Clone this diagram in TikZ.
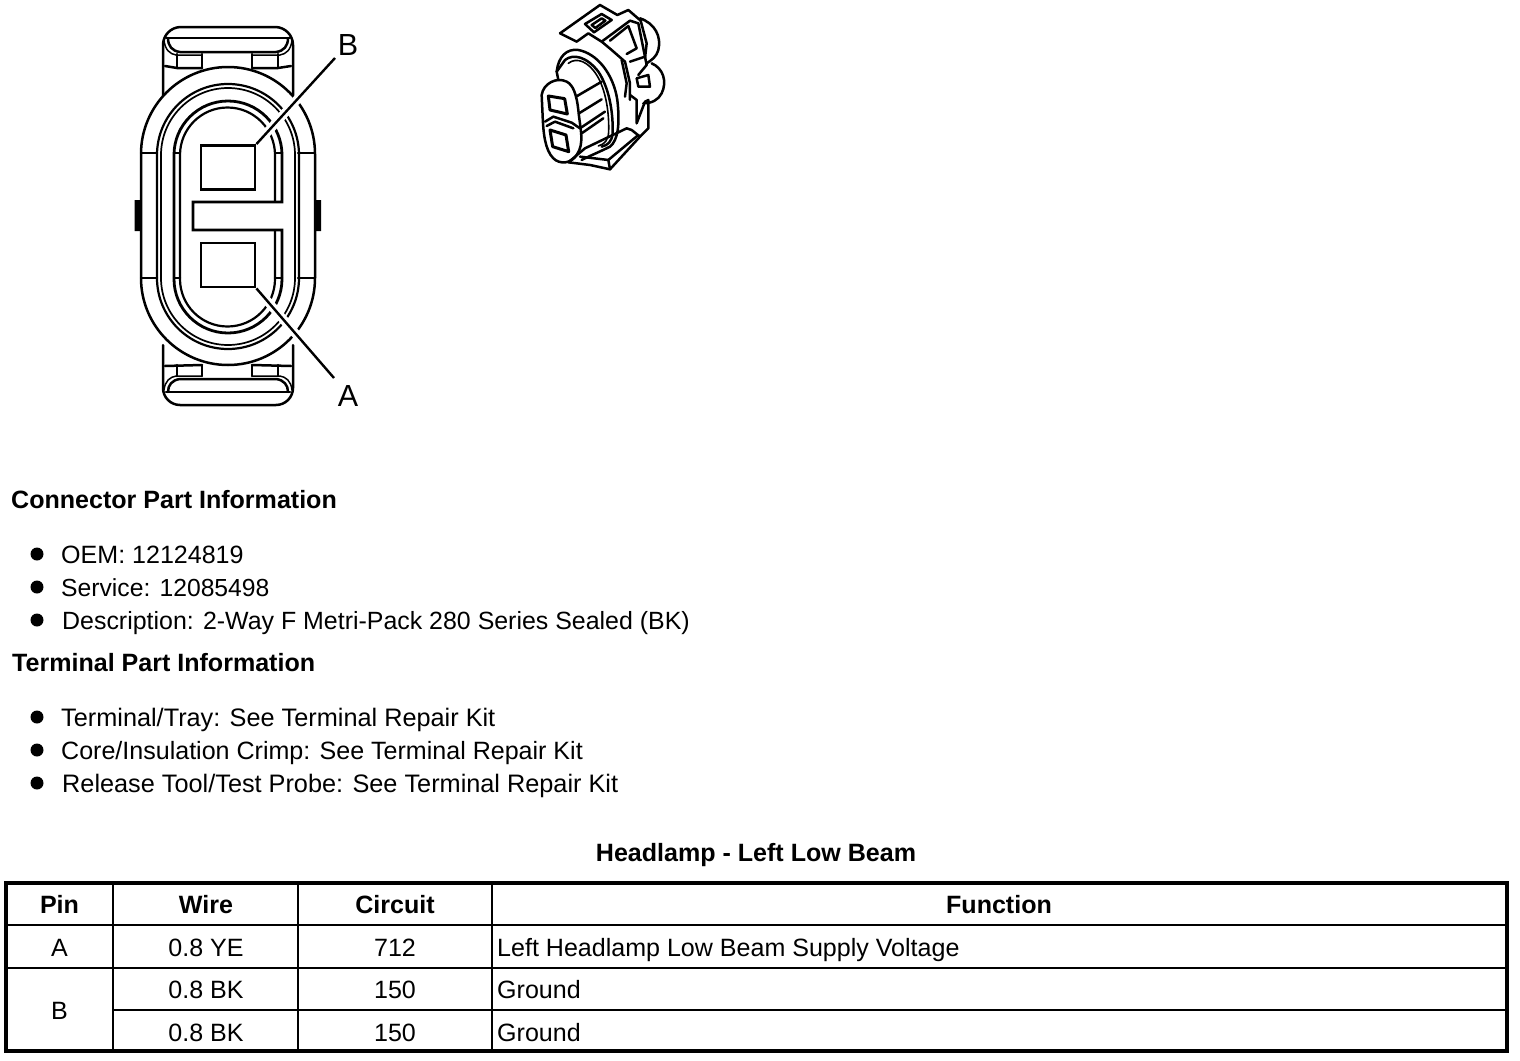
\documentclass[tikz,border=0pt]{standalone}
\usepackage{fontspec}
\setmainfont{Liberation Sans}
\tikzset{
 ln/.style={line width=2.5pt,line join=round,line cap=round},
 thin ln/.style={line width=1.5pt,line join=round,line cap=round},
 txt/.style={anchor=base west,inner sep=0pt,font=\fontsize{25.05}{28}\selectfont},
 head/.style={anchor=base west,inner sep=0pt,font=\fontsize{25.05}{28}\selectfont\bfseries},
 cell/.style={anchor=base,inner sep=0pt,font=\fontsize{25.05}{28}\selectfont},
 hcell/.style={anchor=base,inner sep=0pt,font=\fontsize{25.05}{28}\selectfont\bfseries},
 fcell/.style={anchor=base west,inner sep=0pt,font=\fontsize{25.05}{28}\selectfont},
 callout/.style={anchor=center,inner sep=0pt,font=\fontsize{30.5}{32}\selectfont},
 blt/.style={circle,fill=black,inner sep=0pt,minimum size=13pt},
 cavity/.style={draw,line width=2.8pt,inner sep=0pt,minimum width=54pt,minimum height=44pt},
 leader/.style={line width=2.4pt},
 halo/.style={line width=9pt,white},
}
\begin{document}
\begin{tikzpicture}[x=1pt,y=-1pt]
\useasboundingbox (0,0) rectangle (1520,1060);
% ---- top tab
\draw[ln] (163,110) -- (163,45) arc[start angle=180,end angle=270,radius=18] -- (275,27) arc[start angle=270,end angle=360,radius=18] -- (293,110);
\draw[ln] (166,38) -- (290,38);
\draw[ln] (168,38) .. controls (168,46) and (172,51) .. (180,52) -- (276,52) .. controls (284,51) and (288,46) .. (288,38);
\draw[thin ln] (164,40) .. controls (165,50) and (170,54) .. (176,55) -- (202,55) (252,55) -- (280,55) .. controls (286,54) and (291,50) .. (292,40);
\draw[ln] (177,54) -- (177,68) (202,54) -- (202,68) (252,54) -- (252,68) (278,54) -- (278,68);
\draw[ln] (165,66) -- (177,68) -- (202,68) (252,68) -- (278,68) -- (291,66);
% ---- bottom tab
\draw[ln] (163,345) -- (163,388) arc[start angle=180,end angle=90,radius=17] -- (276,405) arc[start angle=90,end angle=0,radius=17] -- (293,345);
\draw[ln] (166,392) -- (290,392);
\draw[ln] (168,392) .. controls (168,385) and (172,380) .. (180,379) -- (276,379) .. controls (284,380) and (288,385) .. (288,392);
\draw[thin ln] (164,390) .. controls (165,381) and (170,377) .. (176,376) -- (202,376) (252,376) -- (280,376) .. controls (286,377) and (291,381) .. (292,390);
\draw[ln] (177,376) -- (177,365) (202,376) -- (202,365) (252,376) -- (252,365) (278,376) -- (278,365);
\draw[ln] (165,366) -- (202,365) (252,365) -- (291,366);
% ---- outer oval
\draw[ln,fill=white] (141,154) arc[start angle=180,end angle=360,radius=87] -- (315,278) arc[start angle=0,end angle=180,radius=87] -- cycle;
\draw[ln] (141,153) -- (157,153) (298,153) -- (315,153) (141,278) -- (157,278) (298,278) -- (315,278);
\fill (134.5,200) rectangle (141,231) (315,200) rectangle (321,231);
% ---- second ring, doubled
\draw[line width=2.2pt] (157,155) arc[start angle=180,end angle=360,radius=71] -- (299,278) arc[start angle=0,end angle=180,radius=71] -- cycle;
\draw[line width=1.7pt] (161,155) arc[start angle=180,end angle=360,radius=67] -- (295,278) arc[start angle=0,end angle=180,radius=67] -- cycle;
% ---- third ring with key
\draw[line width=2.8pt,line join=miter] (282,155) arc[start angle=360,end angle=180,radius=54] -- (174,279) arc[start angle=180,end angle=0,radius=54] -- (282,230) -- (193,230) -- (193,202) -- (282,202) -- cycle;
\draw[line width=2.2pt] (275,202) -- (275,155) arc[start angle=360,end angle=180,radius=47.5] -- (180,279) arc[start angle=180,end angle=0,radius=47.5] -- (275,230);
\draw[ln] (174,153) -- (180,153) (275,153) -- (282,153) (174,278) -- (180,278) (275,278) -- (282,278);
% ---- cavities and callouts
\node[cavity] (cavB) at (228,167.5) {};
\node[cavity] (cavA) at (228,265) {};
\node[callout] (lblB) at (348,45) {B};
\node[callout] (lblA) at (348,396) {A};
\coordinate (tipB) at (335,58);
\coordinate (tipA) at (334,378);
\draw[halo,shorten <=8pt] (cavB.north east) -- (tipB);
\draw[halo,shorten <=8pt] (cavA.south east) -- (tipA);
\draw[leader] (cavB.north east) -- (tipB);
\draw[leader] (cavA.south east) -- (tipA);
% ---- 3D connector view
\begin{scope}[shift={(530,0)},x=0.3333pt,y=-0.3333pt,line width=2.5pt,line join=round,line cap=round]
 % right bumps
 \draw (330,55) .. controls (375,70) and (395,110) .. (385,150) .. controls (380,170) and (365,180) .. (350,190);
 \draw (365,190) .. controls (400,205) and (412,245) .. (395,280) .. controls (385,300) and (365,310) .. (340,310);
 % top clip
 \draw (90,100) -- (210,15) -- (262,45) -- (295,30) -- (332,62) -- (350,130) -- (345,175);
 \draw (90,100) -- (140,125) -- (175,100) -- (215,125) -- (300,62) -- (325,70) -- (345,170);
 \draw (165,72) -- (215,42) -- (245,60) -- (192,97) -- cycle;
 \draw (185,75) -- (215,55) -- (226,62) -- (196,84) -- cycle;
 \draw (240,122) -- (295,78) -- (320,145) -- (290,162);
 \draw (215,125) -- (245,150) -- (285,185) -- (300,250) -- (300,300);
 \draw (275,180) -- (290,250) -- (285,290);
 % latch details
 \draw (300,185) -- (345,170) -- (350,195) -- (325,225) (320,235) -- (355,225) -- (360,260) -- (325,260) -- cycle;
 \draw (300,285) -- (320,300) -- (320,370) -- (345,305) -- (355,300) -- (355,385) -- (330,410);
 % flange rings
 \draw (80,215) .. controls (85,170) and (110,145) .. (145,150) .. controls (200,160) and (250,220) .. (262,300) .. controls (270,370) and (265,420) .. (240,440) .. controls (210,455) and (185,465) .. (155,480);
 \draw (105,180) .. controls (130,160) and (170,170) .. (205,215) .. controls (235,260) and (250,330) .. (248,400) .. controls (245,425) and (235,435) .. (215,440);
 \draw[line width=1.6pt] (115,190) .. controls (140,170) and (175,185) .. (200,225) .. controls (225,265) and (238,330) .. (236,395) .. controls (235,420) and (225,432) .. (205,438);
 % nose
 \draw[fill=white] (35,285) .. controls (40,250) and (80,230) .. (110,245) .. controls (130,255) and (140,285) .. (145,330) .. controls (150,385) and (165,430) .. (140,465) .. controls (125,490) and (90,495) .. (70,475) .. controls (45,450) and (40,400) .. (38,350) -- cycle;
 \draw (45,365) -- (70,350) -- (125,368) -- (150,385);
 \draw (50,378) -- (75,365) -- (130,385);
 \draw[line width=3pt] (55,288) -- (104,296) -- (112,342) -- (60,330) -- cycle;
 \draw[line width=3pt] (60,390) -- (108,405) -- (116,455) -- (68,440) -- cycle;
 % body lines
 \draw (85,240) -- (80,215) -- (105,180);
 \draw (138,290) -- (215,245);
 \draw (147,340) -- (215,298);
 \draw (150,385) -- (225,335);
 \draw (155,400) -- (220,355);
 % bottom clip
 \draw (115,487) -- (165,445) -- (290,385) -- (305,390) -- (330,410) -- (240,508) -- (180,495) -- (115,487);
 \draw (150,470) -- (235,480) -- (240,508);
 \draw (235,480) -- (325,405);
\end{scope}
% ---- text
\node[head] (t1) at (11,508) {Connector Part Information};
\node[blt] (b1) at (37,554) {};
\node[txt] (l1) at (61,563) {OEM: 12124819};
\node[blt] (b2) at (37,587) {};
\node[txt,font=\fontsize{24.7}{28}\selectfont] (l2) at (61,596) {Service: 12085498};
\node[blt] (b3) at (37,620) {};
\node[txt,font=\fontsize{24.93}{28}\selectfont] (l3) at (62,629) {Description: 2-Way F Metri-Pack 280 Series Sealed (BK)};
\node[head] (t2) at (12,671) {Terminal Part Information};
\node[blt] (b4) at (37,717) {};
\node[txt,font=\fontsize{25.28}{28}\selectfont] (l4) at (61,726) {Terminal/Tray: See Terminal Repair Kit};
\node[blt] (b5) at (37,750) {};
\node[txt] (l5) at (61,759) {Core/Insulation Crimp: See Terminal Repair Kit};
\node[blt] (b6) at (37,783) {};
\node[txt,font=\fontsize{25.28}{28}\selectfont] (l6) at (62,792) {Release Tool/Test Probe: See Terminal Repair Kit};
\node[hcell] (title) at (756,861) {Headlamp - Left Low Beam};
% ---- table
\draw[line width=3.6pt] (6,883) rectangle (1507,1051);
\draw[line width=2.6pt] (6,925) -- (1507,925);
\draw[line width=2pt] (6,968) -- (1507,968);
\draw[line width=2pt] (113,1010) -- (1507,1010);
\draw[line width=2.4pt] (113,883) -- (113,1051);
\draw[line width=1.2pt] (298,883) -- (298,1051);
\draw[line width=2.2pt] (492,883) -- (492,1051);
\node[hcell] (h1) at (59.5,913) {Pin};
\node[hcell] (h2) at (206,913) {Wire};
\node[hcell] (h3) at (395,913) {Circuit};
\node[hcell] (h4) at (999,913) {Function};
\node[cell] (a1) at (59.5,956) {A};
\node[cell] (a2) at (206,956) {0.8 YE};
\node[cell] (a3) at (395,956) {712};
\node[fcell] (a4) at (497,956) {Left Headlamp Low Beam Supply Voltage};
\node[cell] (b1c) at (59.5,1019) {B};
\node[cell] (b2c) at (206,998) {0.8 BK};
\node[cell] (b3c) at (395,998) {150};
\node[fcell] (b4c) at (497,998) {Ground};
\node[cell] (c2) at (206,1041) {0.8 BK};
\node[cell] (c3) at (395,1041) {150};
\node[fcell] (c4) at (497,1041) {Ground};
\end{tikzpicture}
\end{document}
